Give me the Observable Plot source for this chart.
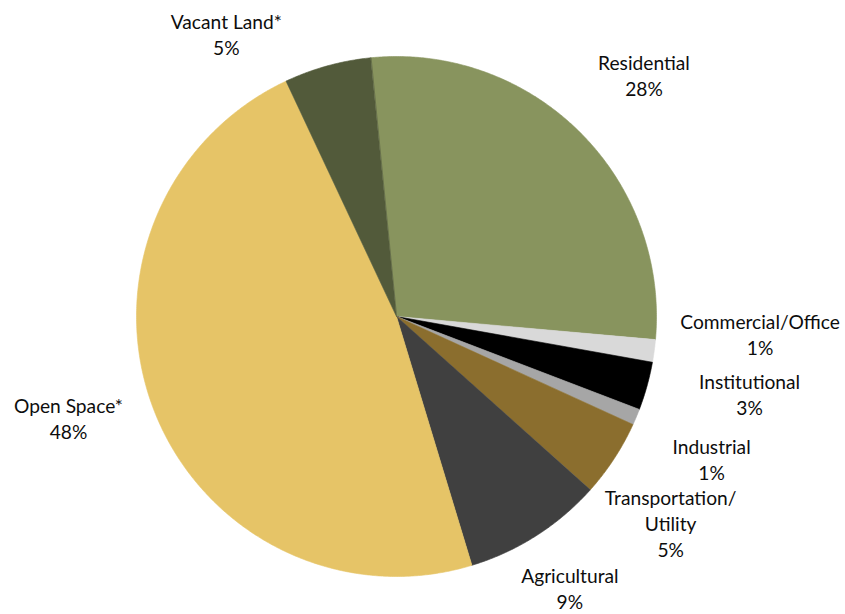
<!DOCTYPE html>
<html>
<head>
<meta charset="utf-8">
<script src="https://cdn.jsdelivr.net/npm/d3@7"></script>
<script src="https://cdn.jsdelivr.net/npm/@observablehq/plot@0.6"></script>
<style>
  html, body { margin: 0; padding: 0; background: #ffffff; }
  #chart { width: 845px; height: 614px; }
</style>
</head>
<body>
<div id="chart"></div>
<script>
// ---- data ----
const categories = ["Residential", "Commercial/Office", "Institutional", "Industrial",
  "Transportation/\nUtility", "Agricultural", "Open Space*", "Vacant Land*"];
const shares = [28.0, 1.4, 3.0, 1.0, 4.8, 8.7, 47.7, 5.4];
const colors = ["#88945E", "#D9D9D9", "#000000", "#A6A6A6", "#8B6E2E", "#404040", "#E6C467", "#525A3A"];

// ---- layout ----
const W = 845, H = 614, CX = 396, CY = 316, R = 260;
const startDeg = -5.7;
const labelAngleNudge = [1.0, -4.9, -3.2, 1.6, 3.8, -0.1, 3.9, -15.6];
const labelRadius = [1.33, 1.40, 1.39, 1.33, 1.32, 1.237, 1.32, 1.27];

const rad = Math.PI / 180;
const pie = d3.pie().sort(null).value(d => d.v)
  .startAngle(startDeg * rad).endAngle(startDeg * rad + 2 * Math.PI);
const rows = categories.map((c, i) => ({name: c, v: shares[i], i}));
const arcs = pie(rows);

const pts = [];
for (const a of arcs) {
  const name = a.data.name;
  pts.push({name, x: 0, y: 0});
  const n = Math.max(2, Math.ceil((a.endAngle - a.startAngle) / (0.4 * rad)));
  for (let k = 0; k <= n; k++) {
    const t = a.startAngle + (a.endAngle - a.startAngle) * k / n;
    pts.push({name, x: Math.sin(t), y: Math.cos(t)});
  }
}

const labels = arcs.map((a, i) => {
  const m = (a.startAngle + a.endAngle) / 2 + labelAngleNudge[i] * rad;
  const r = labelRadius[i];
  return {x: r * Math.sin(m), y: r * Math.cos(m),
    text: a.data.name + "\n" + Math.round(a.data.v) + "%"};
});

const chart = Plot.plot({
  width: W, height: H,
  marginTop: 0, marginBottom: 0, marginLeft: 0, marginRight: 0,
  x: {domain: [-CX / R, (W - CX) / R], axis: null},
  y: {domain: [-(H - CY) / R, CY / R], axis: null},
  color: {domain: categories, range: colors},
  style: {fontFamily: "Lato, 'Open Sans', sans-serif", background: "#ffffff"},
  marks: [
    Plot.line(pts, {x: "x", y: "y", z: "name", fill: "name", stroke: "name",
      strokeWidth: 0.6, curve: "linear-closed"}),
    Plot.text(labels, {x: "x", y: "y", text: "text", fontSize: 19.2,
      lineHeight: 1.36, fill: "#0d0d0d"})
  ]
});
document.getElementById("chart").appendChild(chart);
</script>
</body>
</html>
